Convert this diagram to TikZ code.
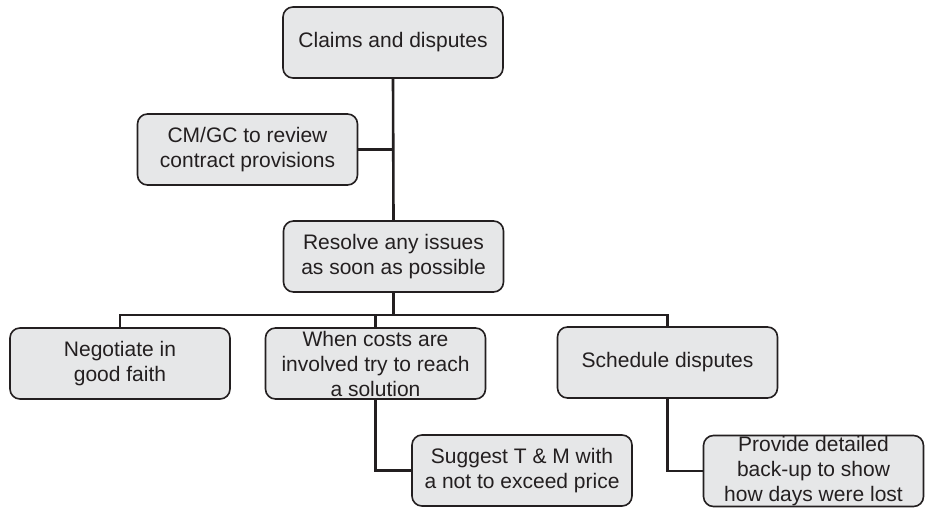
\documentclass[tikz,border=0pt]{standalone}
\usepackage{fontspec}
\setmainfont{Liberation Sans}
\usetikzlibrary{positioning}
\definecolor{boxfill}{HTML}{E6E7E8}
\definecolor{ink}{HTML}{231F20}

\begin{document}
\begin{tikzpicture}[x=1pt, y=-1pt,
  box/.style={draw=ink, line width=1.6pt, fill=boxfill, rounded corners=10pt,
    minimum width=220pt, minimum height=71pt, align=center, text=ink,
    font=\fontsize{21}{25}\selectfont, inner sep=0pt},
  link/.style={draw=ink, line width=2.6pt}]
\useasboundingbox (0,0) rectangle (925,510);
% boxes
\node [box] (claims) at (393,42.5) {Claims and disputes};
\node [box] (review) at (247.5,149.5) {CM/GC to review\\contract provisions};
\node [box] (resolve) at (393.5,256.5) {Resolve any issues\\as soon as possible};
\node [box] (negotiate) at (120,363.5) {Negotiate in\\good faith};
\node [box] (costs) at (375.5,363.5) {When costs are\\involved try to reach\\a solution};
\node [box] (schedule) at (667.5,362.5) {Schedule disputes};
\node [box] (suggest) at (522,470.5) {Suggest T \& M with\\a not to exceed price};
\node [box] (provide) at (813.5,471) {Provide detailed\\back-up to show\\how days were lost};
\coordinate (bus) at (393.5,315);
% connectors
\draw [link] (claims.south) -- (resolve.north);
\draw [link] (review.east) -- (review.east -| claims.south);
\draw [link] (resolve.south) -- (bus);
\draw [link] (negotiate.north) |- (bus) -| (schedule.north);
\draw [link] (costs.north) -- (costs.north |- bus);
\draw [link] (costs.south) |- (suggest.west);
\draw [link] (schedule.south) |- (provide.west);
\end{tikzpicture}
\end{document}
